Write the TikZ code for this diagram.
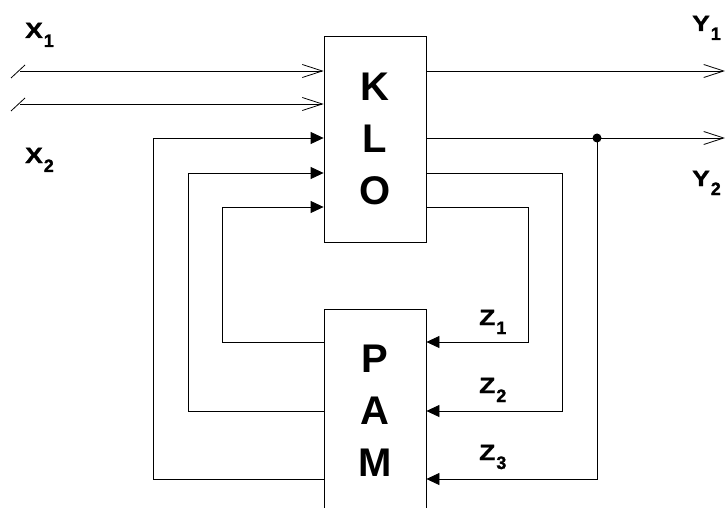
\documentclass[tikz,border=0pt]{standalone}
\usepackage{fontspec}
\setmainfont{Liberation Sans}
\newfontfamily\heavyfont{Liberation Sans Bold}[FakeBold=1.2]
\usetikzlibrary{arrows.meta,positioning}
\tikzset{
  %% block with stacked letters
  blk/.style={draw, minimum width=102pt, inner sep=0pt, align=center,
    line width=0.8pt, font=\fontsize{40}{52}\selectfont\bfseries},
  %% signal arrow (open barb)
  sig/.style={-{Straight Barb[length=20pt,width=13pt]}, line width=0.8pt},
  %% feedback arrow (filled tip)
  fb/.style={-{Triangle[length=13pt,width=12pt]}, line width=0.8pt},
  %% signal label
  siglabel/.style={inner sep=0pt, anchor=base west,
    font=\heavyfont\fontsize{22}{22}\selectfont},
}
\newcommand{\sgn}[2]{\scalebox{1.2}[1]{#1}\hspace{1pt}%
  \raisebox{-9pt}{\fontsize{18}{18}\selectfont #2}}

\begin{document}
\begin{tikzpicture}[x=1pt, y=-1pt]
  \useasboundingbox (0,0) rectangle (725,508);
  \clip (0,0) rectangle (725,508);

  \node[blk, minimum height=206pt] (klo) at (375,139) {K\\L\\O};
  \node[blk, minimum height=204pt] (pam) at (375,411) {P\\A\\M};

  %% inputs
  \coordinate (x1) at (20,71);
  \coordinate (x2) at (20,104);
  \draw[sig] (x1) -- (klo.west |- x1);
  \draw[sig] (x2) -- (klo.west |- x2);
  \draw[line width=0.8pt] (x1) ++(-9,7) -- ++(14,-13);
  \draw[line width=0.8pt] (x2) ++(-9,7) -- ++(14,-13);

  %% outputs
  \coordinate (y1) at (725,71);
  \coordinate (y2) at (725,138);
  \draw[sig] (klo.east |- y1) -- (y1);
  \draw[sig] (klo.east |- y2) -- (y2);
  \node[circle, fill, inner sep=0pt, minimum size=9pt] (tap) at (597,138) {};

  %% feedback from KLO to PAM
  \draw[fb] (klo.east |- 0,207) -| (528,342) -- (pam.east |- 0,342);
  \draw[fb] (klo.east |- 0,173) -| (562,411) -- (pam.east |- 0,411);
  \draw[fb] (tap.center) |- (pam.east |- 0,479);

  %% feedback from PAM to KLO
  \draw[fb] (pam.west |- 0,342) -| (222,207) -- (klo.west |- 0,207);
  \draw[fb] (pam.west |- 0,411) -| (188,173) -- (klo.west |- 0,173);
  \draw[fb] (pam.west |- 0,479) -| (153,138) -- (klo.west |- 0,138);

  %% labels
  \node[siglabel] (lx1) at (25,38) {\sgn{X}{1}};
  \node[siglabel] (lx2) at (25,163) {\sgn{X}{2}};
  \node[siglabel] (ly1) at (692,31) {\sgn{Y}{1}};
  \node[siglabel] (ly2) at (692,186) {\sgn{Y}{2}};
  \node[siglabel] (lz1) at (479,325) {\sgn{Z}{1}};
  \node[siglabel] (lz2) at (479,393) {\sgn{Z}{2}};
  \node[siglabel] (lz3) at (479,460) {\sgn{Z}{3}};
\end{tikzpicture}
\end{document}
